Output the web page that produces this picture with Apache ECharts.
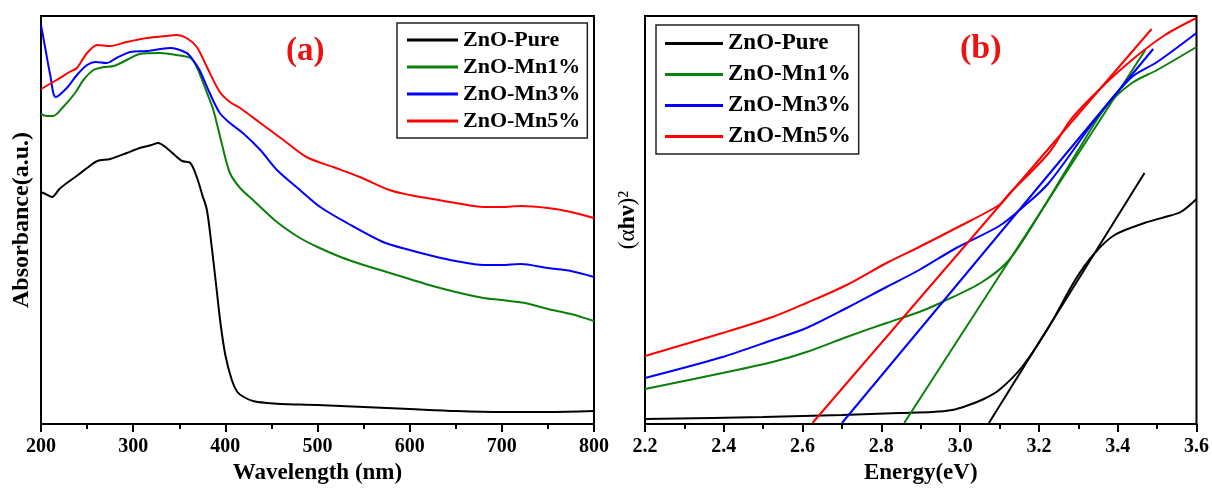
<!DOCTYPE html>
<html>
<head>
<meta charset="utf-8">
<script src="https://cdn.jsdelivr.net/npm/echarts@6/dist/echarts.min.js"></script>
<style>
html,body{margin:0;padding:0;background:#fff;}
#chart{width:1212px;height:490px;}
</style>
</head>
<body>
<div id="chart"></div>
<script>
// ---------- data: panel (a) absorbance ----------
var seriesNames = ['ZnO-Pure', 'ZnO-Mn1%', 'ZnO-Mn3%', 'ZnO-Mn5%'];
var seriesColors = ['#000000', '#0a800a', '#0000ff', '#ff0000'];

var pureWl  = [200,205,212,220,228,240,250,261,275,293,307,320,327,335,345,353,362,369,375,380,385,390,395,400,407,413,420,430,445,460,500,550,600,650,700,750,800];
var pureAbs = [232,230,227,235,241,249,256,263,265,271,276,279,281,277,269,263,261,247,229,214,179,139,99,69,44,32,27,23,21,20,19,17,15,13,12,12,13];

var mn1Wl  = [200,206,213,224,237,246,257,268,279,293,307,329,347,362,369,376,381,387,396,405,416,430,456,481,500,525,550,575,600,625,650,680,700,725,750,775,800];
var mn1Abs = [310,308,308,317,331,344,354,357,358,364,370,371,369,366,357,341,329,314,281,251,236,224,202,186,177,167,159,152,145,138,132,126,124,121,115,110,103];

var mn3Wl  = [200,205,210,216,228,239,250,259,271,282,297,315,340,358,365,372,383,394,405,419,438,456,481,503,532,571,600,625,650,680,700,720,750,775,800];
var mn3Abs = [399,374,349,327,336,349,359,362,361,366,372,373,376,371,364,354,331,311,301,291,274,254,234,217,201,182,174,168,163,159,159,160,156,153,147];

var mn5Wl  = [200,217,231,239,250,261,275,293,315,335,347,358,369,380,394,405,416,438,463,488,517,546,578,600,625,650,680,700,720,750,775,800];
var mn5Abs = [335,344,352,356,371,379,378,382,386,388,389,386,377,357,332,322,316,301,284,267,257,247,234,229,225,221,217,217,218,216,212,206];

// ---------- data: panel (b) Tauc plot ----------
var pureE   = [2.2,2.5,2.7,2.846,2.93,2.98,3.015,3.06,3.099,3.157,3.225,3.292,3.342,3.392,3.468,3.52,3.56,3.6];
var pureAhv = [5,7,9,11,12,14,18,25,34,57,97,144,171,189,201,207,212,225];
var pureFitE = [3.073, 3.468];
var pureFit  = [1, 251];

var mn1E   = [2.2,2.397,2.524,2.61,2.712,2.813,2.896,2.955,3.056,3.124,3.2,3.3,3.37,3.436,3.5,3.6];
var mn1Ahv = [35,51,62,72,87,101,112,122,142,164,209,274,317,341,354,377];
var mn1FitE = [2.858, 3.47];
var mn1Fit  = [1, 374];

var mn3E   = [2.2,2.397,2.524,2.61,2.712,2.813,2.896,2.99,3.099,3.157,3.225,3.352,3.436,3.5,3.6];
var mn3Ahv = [46,67,84,96,116,137,154,176,198,216,241,309,347,362,391];
var mn3FitE = [2.70, 3.49];
var mn3Fit  = [1, 375];

var mn5E   = [2.2,2.397,2.524,2.61,2.712,2.813,2.896,2.99,3.099,3.124,3.225,3.28,3.352,3.436,3.52,3.6];
var mn5Ahv = [68,91,107,121,139,161,177,196,219,230,271,304,334,364,389,406];
var mn5FitE = [2.625, 3.486];
var mn5Fit  = [1, 395];

// ---------- tick labels ----------
var wlTicks = [200, 300, 400, 500, 600, 700, 800];
var eTicks = [2.2, 2.4, 2.6, 2.8, 3.0, 3.2, 3.4, 3.6];

function zip(xs, ys) { return xs.map(function (x, i) { return [x, ys[i]]; }); }

var SERIF = '"Liberation Serif", "Times New Roman", serif';

function xAxisCfg(idx, min, max, interval, name, fmt) {
  return {
    gridIndex: idx, type: 'value', min: min, max: max, interval: interval,
    name: name, nameLocation: 'middle', nameGap: 36,
    nameTextStyle: { fontFamily: SERIF, fontWeight: 'bold', fontSize: 23, color: '#000' },
    axisLine: { show: true, lineStyle: { color: '#000', width: 2 } },
    axisTick: { show: true, inside: false, length: 8, lineStyle: { color: '#000', width: 2 } },
    minorTick: { show: true, splitNumber: 2, length: 5, lineStyle: { color: '#000', width: 2 } },
    axisLabel: { margin: 13, fontFamily: SERIF, fontWeight: 'bold', fontSize: 20, color: '#000',
                 formatter: fmt, showMinLabel: true, showMaxLabel: true },
    splitLine: { show: false }
  };
}
function yAxisCfg(idx, name, gap, rich) {
  var o = {
    gridIndex: idx, type: 'value', min: 0, max: 408,
    name: name, nameLocation: 'middle', nameGap: gap, nameRotate: 90,
    nameTextStyle: { fontFamily: SERIF, fontWeight: 'bold', fontSize: 24, color: '#000' },
    axisLine: { show: true, lineStyle: { color: '#000', width: 2 } },
    axisTick: { show: false }, axisLabel: { show: false }, splitLine: { show: false }
  };
  if (rich) { o.nameTextStyle.rich = rich; }
  return o;
}

var series = [];
var aData = [[pureWl, pureAbs], [mn1Wl, mn1Abs], [mn3Wl, mn3Abs], [mn5Wl, mn5Abs]];
var bData = [[pureE, pureAhv], [mn1E, mn1Ahv], [mn3E, mn3Ahv], [mn5E, mn5Ahv]];
var bFit  = [[pureFitE, pureFit], [mn1FitE, mn1Fit], [mn3FitE, mn3Fit], [mn5FitE, mn5Fit]];
seriesNames.forEach(function (n, i) {
  series.push({ name: n, type: 'line', xAxisIndex: 0, yAxisIndex: 0, data: zip(aData[i][0], aData[i][1]),
    showSymbol: false, symbol: 'none', smooth: 0.3,
    lineStyle: { color: seriesColors[i], width: 2 }, itemStyle: { color: seriesColors[i] } });
});
seriesNames.forEach(function (n, i) {
  series.push({ name: n, type: 'line', xAxisIndex: 1, yAxisIndex: 1, data: zip(bData[i][0], bData[i][1]),
    showSymbol: false, symbol: 'none', smooth: 0.3,
    lineStyle: { color: seriesColors[i], width: 2 }, itemStyle: { color: seriesColors[i] } });
  series.push({ name: n, type: 'line', xAxisIndex: 1, yAxisIndex: 1, data: zip(bFit[i][0], bFit[i][1]),
    showSymbol: false, symbol: 'none', lineStyle: { color: seriesColors[i], width: 2 }, itemStyle: { color: seriesColors[i] } });
});

function legendCfg(left, top, fs, gap, iw, pad) {
  return {
    data: seriesNames, orient: 'vertical', left: left, top: top,
    icon: 'rect', itemWidth: iw, itemHeight: 3, itemGap: gap,
    padding: pad, borderColor: '#222', borderWidth: 1.5, backgroundColor: '#fff',
    selectedMode: false,
    textStyle: { fontFamily: SERIF, fontWeight: 'bold', fontSize: fs, lineHeight: fs, color: '#000' }
  };
}

var chart = echarts.init(document.getElementById('chart'), null, { renderer: 'canvas' });
chart.setOption({
  backgroundColor: '#fff',
  animation: false,
  title: [
    { text: '(a)', left: 281, top: 30, textStyle: { fontFamily: SERIF, fontWeight: 'bold', fontSize: 33, color: '#ee1111' } },
    { text: '(b)', left: 955, top: 27, textStyle: { fontFamily: SERIF, fontWeight: 'bold', fontSize: 34, color: '#ee1111' } }
  ],
  legend: [
    legendCfg(397, 23, 22, 5, 51, [6, 7, 6, 10]),
    legendCfg(656, 25, 23, 8, 58, [7, 8, 6, 9])
  ],
  grid: [
    { left: 41, top: 16, width: 553, height: 408, show: true, borderColor: '#000', borderWidth: 2 },
    { left: 645, top: 16, width: 553, height: 408, show: true, borderColor: '#000', borderWidth: 2 }
  ],
  xAxis: [
    xAxisCfg(0, wlTicks[0], wlTicks[wlTicks.length - 1], 100, 'Wavelength (nm)', function (v) { return String(Math.round(v)); }),
    xAxisCfg(1, eTicks[0], eTicks[eTicks.length - 1], 0.2, 'Energy(eV)', function (v) { return (+v).toFixed(1); })
  ],
  yAxis: [
    yAxisCfg(0, 'Absorbance(a.u.)', 7),
    yAxisCfg(1, '{n|(α}{b|hν}{n|)²}', 5, {
      n: { fontFamily: SERIF, fontWeight: 'normal', fontSize: 23, color: '#000' },
      b: { fontFamily: SERIF, fontWeight: 'bold', fontSize: 24, color: '#000' }
    })
  ],
  series: series
});
</script>
</body>
</html>
